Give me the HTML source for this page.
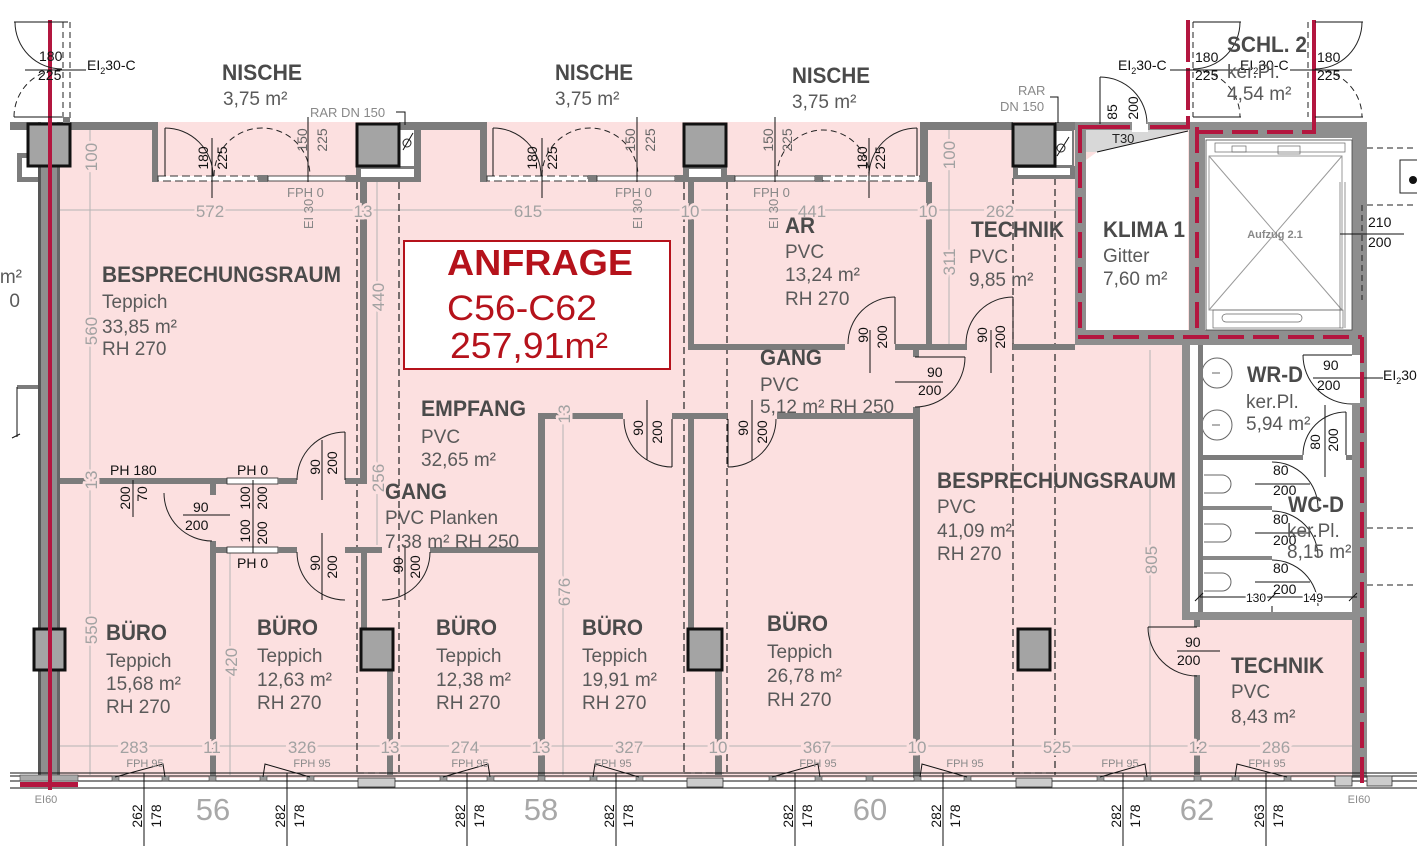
<!DOCTYPE html>
<html><head><meta charset="utf-8">
<style>
html,body{margin:0;padding:0;background:#fff;}
svg{display:block;}
text{font-family:"Liberation Sans",Arial,sans-serif;}
.w{fill:#7c7c7c;}
.ow{fill:#8e8e8e;}
.c{fill:#a4a4a4;stroke:#111;stroke-width:3;}
.rn{font-weight:bold;font-size:22px;fill:#4a4a4a;}
.rs{font-size:19px;fill:#5a5a5a;}
.dm{font-size:17px;fill:#a2a2a2;stroke:#fce0e0;stroke-width:5px;paint-order:stroke;}
.dl{font-size:14px;fill:#111;}
.dg{font-size:14px;fill:#666;}
.ds{font-size:13px;fill:#888;}
.fp{font-size:11px;fill:#8a8a8a;}
.bay{font-size:31px;fill:#a8a8a8;}
.ar{fill:none;stroke:#222;stroke-width:1;}
.ad{fill:none;stroke:#222;stroke-width:1;stroke-dasharray:6 4;}
.dsh{fill:none;stroke:#222;stroke-width:1.2;stroke-dasharray:7 4;}
.dim{stroke:#b4b4b4;stroke-width:1;fill:none;}
.ln{stroke:#111;stroke-width:1;fill:none;}
.red{stroke:#b3163f;stroke-width:4;fill:none;}
.redd{stroke:#b3163f;stroke-width:4;fill:none;stroke-dasharray:26 9;}
.win{fill:#fff;stroke:#222;stroke-width:0.8;}
.ms{fill:#9a9a9a;stroke:#444;stroke-width:0.6;}
</style></head><body>
<svg width="1417" height="868" viewBox="0 0 1417 868" xmlns="http://www.w3.org/2000/svg">
<rect x="0" y="0" width="1417" height="868" fill="#fff"/>
<!-- pink base -->
<rect x="60" y="122" width="1300" height="656" fill="#fce0e0"/>
<!-- white rooms -->
<polygon points="1086,160 1097,152 1188,131 1188,330 1086,330" fill="#fff"/>
<rect x="1205" y="138" width="147" height="192" fill="#fff"/>
<rect x="1183" y="343" width="184" height="277" fill="#fff"/>
<polygon points="1086,130 1188,130 1097,152 1086,152" fill="#d8d8d8"/>
<line x1="1188" y1="131" x2="1097" y2="152" class="ln"/>

<!-- dimension lines -->
<line x1="60" y1="210" x2="1075" y2="210" class="dim"/>
<line x1="60" y1="746" x2="1352" y2="746" class="dim"/>
<line x1="90" y1="130" x2="90" y2="775" class="dim"/>
<line x1="377" y1="182" x2="377" y2="545" class="dim"/>
<line x1="230" y1="553" x2="230" y2="775" class="dim"/>
<line x1="563" y1="420" x2="563" y2="775" class="dim"/>
<line x1="949" y1="130" x2="949" y2="344" class="dim"/>
<line x1="1150" y1="350" x2="1150" y2="775" class="dim"/>

<!-- dashed shaft lines -->
<line x1="357" y1="182" x2="357" y2="775" class="dsh"/>
<line x1="399" y1="182" x2="399" y2="775" class="dsh"/>
<line x1="684" y1="182" x2="684" y2="775" class="dsh"/>
<line x1="727" y1="182" x2="727" y2="775" class="dsh"/>
<line x1="1013" y1="178" x2="1013" y2="775" class="dsh"/>
<line x1="1055" y1="178" x2="1055" y2="775" class="dsh"/>

<!-- outer walls top/left -->
<rect x="10" y="122" width="148" height="8" class="w"/>
<rect x="152" y="122" width="6" height="60" class="w"/>
<rect x="17" y="153" width="21" height="29" class="w"/>
<rect x="22" y="158" width="16" height="19" fill="#fff"/>
<rect x="38" y="122" width="22" height="656" class="ow"/>
<rect x="38" y="122" width="3" height="656" fill="#555"/>
<rect x="57" y="122" width="3" height="656" fill="#666"/>
<line x1="17" y1="387" x2="38" y2="387" stroke="#7c7c7c" stroke-width="4"/>
<line x1="17" y1="387" x2="17" y2="437" class="ln"/>
<line x1="12" y1="438" x2="20" y2="434" class="ln"/>

<!-- nische 1 bottom -->
<rect x="158" y="176" width="100" height="5" fill="#fff" stroke="#333" stroke-width="1" stroke-dasharray="8 4"/>
<rect x="258" y="175" width="10" height="7" class="w"/>
<rect x="268" y="176" width="78" height="5" class="win"/>
<rect x="346" y="175" width="10" height="7" class="w"/>
<rect x="356" y="166" width="65" height="16" class="w"/>
<rect x="361" y="169" width="53" height="8" fill="#fff"/>
<rect x="399" y="122" width="88" height="8" class="w"/>
<rect x="414" y="122" width="7" height="60" class="w"/>
<rect x="400" y="130" width="14" height="36" fill="#fff"/>
<circle cx="407" cy="143" r="4" class="ar"/>
<line x1="403" y1="150" x2="413" y2="133" class="ln"/>
<rect x="480" y="122" width="7" height="60" class="w"/>
<!-- nische 2 bottom -->
<rect x="487" y="176" width="101" height="5" fill="#fff" stroke="#333" stroke-width="1" stroke-dasharray="8 4"/>
<rect x="588" y="175" width="9" height="7" class="w"/>
<rect x="597" y="176" width="78" height="5" class="win"/>
<rect x="675" y="175" width="9" height="7" class="w"/>
<rect x="683" y="166" width="44" height="16" class="w"/>
<rect x="689" y="169" width="32" height="8" fill="#fff"/>
<!-- nische 3 bottom -->
<rect x="727" y="175" width="8" height="7" class="w"/>
<rect x="735" y="176" width="80" height="5" class="win"/>
<rect x="815" y="175" width="8" height="7" class="w"/>
<rect x="823" y="176" width="97" height="5" fill="#fff" stroke="#333" stroke-width="1" stroke-dasharray="8 4"/>
<rect x="920" y="122" width="8" height="60" class="w"/>
<rect x="920" y="122" width="93" height="8" class="w"/>
<rect x="1013" y="166" width="62" height="13" class="w"/>
<rect x="1018" y="168" width="52" height="7" fill="#fff"/>
<rect x="1055" y="122" width="20" height="8" class="w"/>
<rect x="1055" y="130" width="18" height="36" fill="#fff" stroke="#7c7c7c" stroke-width="2"/>
<circle cx="1061" cy="148" r="4" class="ar"/>
<line x1="1057" y1="156" x2="1069" y2="137" class="ln"/>

<!-- klima / aufzug walls -->
<rect x="1075" y="122" width="115" height="8" class="ow"/>
<rect x="1075" y="122" width="11" height="223" class="ow"/>
<rect x="1189" y="122" width="16" height="223" class="ow"/>
<rect x="1190" y="122" width="177" height="16" class="ow"/>
<rect x="1352" y="122" width="15" height="223" class="ow"/>
<rect x="1075" y="330" width="292" height="15" class="ow"/>
<rect x="1132" y="120" width="16" height="12" fill="#fff"/>
<!-- aufzug inner -->
<rect x="1206" y="140" width="146" height="190" fill="none" stroke="#444" stroke-width="0.8"/>
<rect x="1209" y="156" width="133" height="154" fill="none" stroke="#999" stroke-width="1"/>
<line x1="1209" y1="156" x2="1342" y2="310" stroke="#999"/>
<line x1="1342" y1="156" x2="1209" y2="310" stroke="#999"/>
<rect x="1215" y="143" width="130" height="9" fill="none" stroke="#666" stroke-width="0.7"/>
<rect x="1232" y="146" width="14" height="6" fill="none" stroke="#666" stroke-width="0.7"/>
<rect x="1278" y="146" width="22" height="8" fill="none" stroke="#666" stroke-width="0.7"/>
<rect x="1213" y="310" width="130" height="18" fill="none" stroke="#666" stroke-width="0.7"/>
<rect x="1222" y="314" width="80" height="8" rx="4" fill="none" stroke="#666" stroke-width="0.7"/>
<line x1="1340" y1="182" x2="1340" y2="328" stroke="#666" stroke-width="0.7"/>
<line x1="1345" y1="182" x2="1345" y2="328" stroke="#666" stroke-width="0.7"/>
<text x="1275" y="238" text-anchor="middle" font-size="11" font-weight="bold" fill="#888">Aufzug 2.1</text>
<!-- outside right -->
<line x1="1367" y1="148" x2="1417" y2="148" class="ad"/>
<line x1="1367" y1="205" x2="1417" y2="205" class="ad"/>
<rect x="1400" y="160" width="20" height="33" fill="#fff" stroke="#222" stroke-width="1"/>
<circle cx="1413" cy="180" r="4" fill="#111"/>
<line x1="1362" y1="205" x2="1362" y2="300" class="ad"/>
<line x1="1340" y1="234" x2="1404" y2="234" class="ln"/>
<text x="1368" y="227" class="dl">210</text>
<text x="1368" y="247" class="dl">200</text>
<line x1="1367" y1="528" x2="1417" y2="528" class="ad"/>
<line x1="1367" y1="585" x2="1417" y2="585" class="ad"/>

<!-- WC block -->
<rect x="1182" y="343" width="8" height="277" class="ow"/>
<rect x="1198" y="345" width="5" height="267" class="w"/>
<rect x="1198" y="455" width="105" height="5" class="w"/>
<rect x="1346" y="455" width="6" height="5" class="w"/>
<rect x="1182" y="612" width="170" height="8" class="ow"/>
<rect x="1352" y="343" width="15" height="435" class="ow"/>
<rect x="1352" y="355" width="8" height="48" fill="#fff"/>
<circle cx="1217" cy="373" r="15" fill="#fff" stroke="#666" stroke-width="1"/>
<line x1="1212" y1="373" x2="1220" y2="373" stroke="#666"/>
<circle cx="1217" cy="425" r="15" fill="#fff" stroke="#666" stroke-width="1"/>
<line x1="1212" y1="425" x2="1220" y2="425" stroke="#666"/>
<rect x="1198" y="345" width="5" height="267" class="w"/>
<path d="M1204 475 h18 a9 9 0 0 1 0 18 h-18" fill="#fff" stroke="#666"/>
<path d="M1204 524 h18 a9 9 0 0 1 0 18 h-18" fill="#fff" stroke="#666"/>
<path d="M1204 573 h18 a9 9 0 0 1 0 18 h-18" fill="#fff" stroke="#666"/>
<line x1="1203" y1="507" x2="1272" y2="507" class="ln"/><line x1="1203" y1="509" x2="1272" y2="509" class="ln"/>
<line x1="1203" y1="557" x2="1272" y2="557" class="ln"/><line x1="1203" y1="559" x2="1272" y2="559" class="ln"/>
<path d="M1272 462 A46 46 0 0 1 1318 508" class="ar"/>
<path d="M1272 511 A46 46 0 0 1 1318 557" class="ar"/>
<path d="M1272 560 A46 46 0 0 1 1318 606" class="ar"/>
<line x1="1272" y1="606" x2="1272" y2="612" class="ln"/>
<line x1="1255" y1="484" x2="1310" y2="484" class="ln"/>
<line x1="1255" y1="533" x2="1310" y2="533" class="ln"/>
<line x1="1255" y1="582" x2="1310" y2="582" class="ln"/>
<text x="1273" y="475" class="dl">80</text><text x="1273" y="495" class="dl">200</text>
<text x="1273" y="524" class="dl">80</text><text x="1273" y="545" class="dl">200</text>
<text x="1273" y="573" class="dl">80</text><text x="1273" y="594" class="dl">200</text>
<line x1="1200" y1="597" x2="1357" y2="597" class="ln"/>
<line x1="1195" y1="601" x2="1203" y2="593" class="ln"/>
<line x1="1268" y1="601" x2="1276" y2="593" class="ln"/>
<line x1="1349" y1="601" x2="1357" y2="593" class="ln"/>
<text x="1246" y="602" font-size="12" fill="#111" stroke="#fff" stroke-width="3" paint-order="stroke">130</text>
<text x="1303" y="602" font-size="12" fill="#111" stroke="#fff" stroke-width="3" paint-order="stroke">149</text>
<!-- WR-D doors -->
<path d="M1303 455 A43 43 0 0 1 1346 412" class="ar"/>
<line x1="1346" y1="412" x2="1346" y2="455" class="ln"/>
<line x1="1325" y1="405" x2="1325" y2="477" class="ln"/>
<text class="dl" transform="translate(1320,442) rotate(-90)" text-anchor="middle">80</text>
<text class="dl" transform="translate(1338,440) rotate(-90)" text-anchor="middle">200</text>
<path d="M1303 355 A49 49 0 0 0 1352 404" class="ar"/>
<line x1="1303" y1="355" x2="1352" y2="355" class="ln"/>
<line x1="1313" y1="378" x2="1383" y2="378" class="ln"/>
<text x="1323" y="370" class="dl">90</text>
<text x="1317" y="390" class="dl">200</text>
<text x="1383" y="380" class="dl">EI<tspan font-size="9" dy="4">2</tspan><tspan dy="-4">30</tspan></text>

<!-- interior walls -->
<rect x="360" y="182" width="7" height="302" class="w"/>
<rect x="60" y="478" width="167" height="6" class="w"/>
<rect x="227" y="478" width="51" height="6" class="win"/>
<rect x="278" y="478" width="19" height="6" class="w"/>
<rect x="345" y="478" width="22" height="6" class="w"/>
<rect x="210" y="484" width="6" height="11" class="w"/>
<rect x="210" y="547" width="17" height="6" class="w"/>
<rect x="227" y="547" width="51" height="6" class="win"/>
<rect x="278" y="547" width="19" height="6" class="w"/>
<rect x="345" y="547" width="37" height="6" class="w"/>
<rect x="430" y="547" width="115" height="6" class="w"/>
<rect x="210" y="541" width="6" height="237" class="w"/>
<rect x="361" y="553" width="6" height="75" class="w"/>
<rect x="387" y="671" width="6" height="104" class="w"/>
<rect x="538" y="413" width="7" height="365" class="w"/>
<rect x="538" y="413" width="85" height="6" class="w"/>
<rect x="672" y="413" width="55" height="6" class="w"/>
<rect x="777" y="413" width="140" height="6" class="w"/>
<rect x="688" y="182" width="6" height="163" class="w"/>
<rect x="688" y="413" width="6" height="215" class="w"/>
<rect x="715" y="671" width="7" height="104" class="w"/>
<rect x="688" y="344" width="157" height="6" class="w"/>
<rect x="895" y="344" width="72" height="6" class="w"/>
<rect x="1013" y="344" width="62" height="6" class="w"/>
<rect x="926" y="182" width="6" height="162" class="w"/>
<rect x="913" y="350" width="6" height="7" class="w"/>
<rect x="913" y="407" width="7" height="371" class="w"/>
<rect x="1194" y="620" width="6" height="7" class="w"/>
<rect x="1194" y="675" width="6" height="100" class="w"/>

<!-- columns -->
<rect x="28" y="124" width="42" height="42" class="c"/>
<rect x="357" y="124" width="42" height="42" class="c"/>
<rect x="684" y="124" width="42" height="42" class="c"/>
<rect x="1013" y="124" width="42" height="42" class="c"/>
<rect x="34" y="629" width="31" height="41" class="c"/>
<rect x="361" y="629" width="32" height="41" class="c"/>
<rect x="688" y="629" width="34" height="41" class="c"/>
<rect x="1018" y="629" width="32" height="41" class="c"/>

<!-- bottom facade -->
<line x1="10" y1="773" x2="1417" y2="773" class="ln"/>
<line x1="10" y1="776" x2="1417" y2="776" class="ln"/>
<line x1="10" y1="781" x2="1417" y2="781" class="ln"/>
<line x1="10" y1="788" x2="1417" y2="788" class="ln"/>
<line x1="357" y1="773" x2="399" y2="773" class="dsh"/>
<line x1="684" y1="773" x2="727" y2="773" class="dsh"/>
<line x1="1013" y1="773" x2="1055" y2="773" class="dsh"/>
<rect x="20" y="775" width="58" height="6" fill="#aaa" stroke="#444" stroke-width="0.6"/>
<g class="ms">
<rect x="112" y="776" width="7" height="5"/><rect x="162" y="776" width="7" height="5"/>
<rect x="209" y="776" width="7" height="5"/><rect x="260" y="776" width="7" height="5"/>
<rect x="307" y="776" width="7" height="5"/><rect x="440" y="776" width="7" height="5"/>
<rect x="487" y="776" width="7" height="5"/><rect x="538" y="776" width="7" height="5"/>
<rect x="590" y="776" width="7" height="5"/><rect x="636" y="776" width="7" height="5"/>
<rect x="769" y="776" width="7" height="5"/><rect x="815" y="776" width="7" height="5"/>
<rect x="866" y="776" width="7" height="5"/><rect x="914" y="776" width="7" height="5"/>
<rect x="964" y="776" width="7" height="5"/><rect x="1097" y="776" width="7" height="5"/>
<rect x="1144" y="776" width="7" height="5"/><rect x="1194" y="776" width="7" height="5"/>
<rect x="1232" y="776" width="7" height="5"/><rect x="1284" y="776" width="7" height="5"/>
</g>
<g fill="#ccc" stroke="#333" stroke-width="0.8">
<rect x="358" y="778" width="37" height="9"/>
<rect x="687" y="778" width="36" height="9"/>
<rect x="1016" y="778" width="36" height="9"/>
<rect x="1335" y="776" width="17" height="10"/>
<rect x="1367" y="776" width="25" height="10"/>
</g>
<g class="ln">
<polyline points="115,777 163,764 165,777"/>
<polyline points="263,777 265,764 310,777"/>
<polyline points="443,777 488,764 490,777"/>
<polyline points="593,777 595,764 639,777"/>
<polyline points="772,777 818,764 820,777"/>
<polyline points="920,777 922,764 967,777"/>
<polyline points="1100,777 1145,764 1147,777"/>
<polyline points="1235,777 1237,764 1287,777"/>
</g>
<g class="fp" text-anchor="middle">
<text x="145" y="767">FPH 95</text><text x="312" y="767">FPH 95</text>
<text x="470" y="767">FPH 95</text><text x="613" y="767">FPH 95</text>
<text x="818" y="767">FPH 95</text><text x="965" y="767">FPH 95</text>
<text x="1120" y="767">FPH 95</text><text x="1267" y="767">FPH 95</text>
</g>

<!-- red lines -->
<line x1="50" y1="20" x2="50" y2="790" class="red"/>
<rect x="20" y="782" width="58" height="5" fill="#b3163f"/>
<line x1="1188" y1="20" x2="1188" y2="127" class="red" stroke-dasharray="42 6"/>
<line x1="1314" y1="20" x2="1314" y2="133" class="red"/>
<line x1="1078" y1="127" x2="1130" y2="127" class="red"/>
<line x1="1150" y1="127" x2="1190" y2="127" class="red"/>
<line x1="1080" y1="127" x2="1080" y2="337" class="redd"/>
<line x1="1197" y1="127" x2="1197" y2="337" class="redd"/>
<line x1="1078" y1="337" x2="1362" y2="337" class="redd"/>
<line x1="1197" y1="132" x2="1316" y2="132" class="redd"/>
<line x1="1362" y1="337" x2="1362" y2="787" class="redd"/>

<!-- top-left door -->
<path d="M15 22 A47 47 0 0 0 62 69" class="ar"/>
<path d="M14 117 A48 48 0 0 1 62 69" class="ad"/>
<line x1="14" y1="22" x2="68" y2="22" class="ln"/>
<line x1="14" y1="117" x2="62" y2="117" class="ln"/>
<line x1="63" y1="22" x2="63" y2="118" class="ad"/>
<line x1="70" y1="22" x2="70" y2="118" class="ad"/>
<rect x="63" y="117" width="7" height="6" class="w"/>
<line x1="25" y1="70" x2="86" y2="70" class="ln"/>
<text x="39" y="61" class="dl">180</text>
<text x="38" y="80" class="dl">225</text>
<text x="87" y="70" class="dl">EI<tspan font-size="9" dy="4">2</tspan><tspan dy="-4">30-C</tspan></text>

<!-- nische doors -->
<line x1="165" y1="128" x2="165" y2="176" class="ln"/>
<path d="M165 128 A48 48 0 0 1 213 176" class="ar"/>
<path d="M214 176 A48 48 0 0 1 310 176" class="ad"/>
<line x1="212" y1="138" x2="212" y2="198" class="ln"/>
<line x1="308" y1="117" x2="308" y2="182" class="ln"/>
<text class="dl" transform="translate(208,158) rotate(-90)" text-anchor="middle">180</text>
<text class="dl" transform="translate(227,158) rotate(-90)" text-anchor="middle">225</text>
<text class="dg" transform="translate(307,140) rotate(-90)" text-anchor="middle">150</text>
<text class="dg" transform="translate(327,140) rotate(-90)" text-anchor="middle">225</text>

<line x1="493" y1="128" x2="493" y2="176" class="ln"/>
<path d="M493 128 A48 48 0 0 1 541 176" class="ar"/>
<path d="M542 176 A48 48 0 0 1 638 176" class="ad"/>
<line x1="542" y1="138" x2="542" y2="198" class="ln"/>
<line x1="637" y1="117" x2="637" y2="182" class="ln"/>
<text class="dl" transform="translate(537,158) rotate(-90)" text-anchor="middle">180</text>
<text class="dl" transform="translate(557,158) rotate(-90)" text-anchor="middle">225</text>
<text class="dg" transform="translate(635,140) rotate(-90)" text-anchor="middle">150</text>
<text class="dg" transform="translate(655,140) rotate(-90)" text-anchor="middle">225</text>

<line x1="917" y1="128" x2="917" y2="176" class="ln"/>
<path d="M917 128 A48 48 0 0 0 869 176" class="ar"/>
<path d="M777 176 A46 46 0 0 1 869 176" class="ad"/>
<line x1="869" y1="138" x2="869" y2="198" class="ln"/>
<line x1="775" y1="117" x2="775" y2="182" class="ln"/>
<text class="dg" transform="translate(773,140) rotate(-90)" text-anchor="middle">150</text>
<text class="dg" transform="translate(792,140) rotate(-90)" text-anchor="middle">225</text>
<text class="dl" transform="translate(867,158) rotate(-90)" text-anchor="middle">180</text>
<text class="dl" transform="translate(885,158) rotate(-90)" text-anchor="middle">225</text>

<g class="ds">
<text x="287" y="197">FPH 0</text>
<text x="615" y="197">FPH 0</text>
<text x="753" y="197">FPH 0</text>
<text transform="translate(313,214) rotate(-90)" text-anchor="middle">EI 30</text>
<text transform="translate(642,214) rotate(-90)" text-anchor="middle">EI 30</text>
<text transform="translate(778,214) rotate(-90)" text-anchor="middle">EI 30</text>
<text x="310" y="117">RAR DN 150</text>
<text x="1018" y="95">RAR</text>
<text x="1000" y="111">DN 150</text>
</g>
<polyline points="396,112 405,112 405,125" class="ln"/>
<polyline points="1050,97 1058,97 1058,123" class="ln"/>

<!-- klima door & schl doors -->
<line x1="1100" y1="77" x2="1100" y2="124" class="ln"/>
<path d="M1100 77 A47 47 0 0 1 1147 124" class="ar"/>
<text class="dl" transform="translate(1117,112) rotate(-90)" text-anchor="middle">85</text>
<text class="dl" transform="translate(1138,108) rotate(-90)" text-anchor="middle">200</text>
<text x="1112" y="143" font-size="13" fill="#222">T30</text>

<line x1="1193" y1="22" x2="1241" y2="22" class="ln"/>
<line x1="1193" y1="117" x2="1241" y2="117" class="ln"/>
<line x1="1193" y1="22" x2="1193" y2="117" class="ad"/>
<path d="M1240 22 A47 47 0 0 1 1193 69" class="ar"/>
<path d="M1193 70 A47 47 0 0 1 1240 117" class="ad"/>
<line x1="1315" y1="22" x2="1363" y2="22" class="ln"/>
<line x1="1315" y1="117" x2="1363" y2="117" class="ln"/>
<line x1="1308" y1="22" x2="1308" y2="117" class="ad"/>
<path d="M1362 22 A47 47 0 0 1 1315 69" class="ar"/>
<path d="M1315 70 A47 47 0 0 1 1362 117" class="ad"/>
<line x1="1170" y1="70" x2="1240" y2="70" class="ln"/>
<line x1="1290" y1="70" x2="1352" y2="70" class="ln"/>
<text x="1195" y="62" class="dl">180</text>
<text x="1195" y="80" class="dl">225</text>
<text x="1317" y="62" class="dl">180</text>
<text x="1317" y="80" class="dl">225</text>
<text x="1118" y="70" class="dl">EI<tspan font-size="9" dy="4">2</tspan><tspan dy="-4">30-C</tspan></text>
<text x="1240" y="70" class="dl">EI<tspan font-size="9" dy="4">2</tspan><tspan dy="-4">30-C</tspan></text>

<!-- interior doors -->
<path d="M297 480 A48 48 0 0 1 345 432" class="ar"/>
<line x1="345" y1="432" x2="345" y2="480" class="ln"/>
<line x1="322" y1="440" x2="322" y2="500" class="ln"/>
<text class="dl" transform="translate(320,467) rotate(-90)" text-anchor="middle">90</text>
<text class="dl" transform="translate(337,463) rotate(-90)" text-anchor="middle">200</text>
<path d="M297 552 A48 48 0 0 0 345 600" class="ar"/>
<line x1="322" y1="533" x2="322" y2="600" class="ln"/>
<text class="dl" transform="translate(320,563) rotate(-90)" text-anchor="middle">90</text>
<text class="dl" transform="translate(337,567) rotate(-90)" text-anchor="middle">200</text>
<path d="M430 552 A48 48 0 0 1 382 600" class="ar"/>
<line x1="405" y1="545" x2="405" y2="600" class="ln"/>
<text class="dl" transform="translate(403,565) rotate(-90)" text-anchor="middle">90</text>
<text class="dl" transform="translate(420,567) rotate(-90)" text-anchor="middle">200</text>
<path d="M164 493 A48 48 0 0 0 212 541" class="ar"/>
<line x1="183" y1="515" x2="230" y2="515" class="ln"/>
<text x="193" y="512" class="dl">90</text>
<text x="185" y="530" class="dl">200</text>
<line x1="133" y1="480" x2="133" y2="517" class="ln"/>
<text x="110" y="475" class="dl">PH 180</text>
<text class="dl" transform="translate(130,498) rotate(-90)" text-anchor="middle">200</text>
<text class="dl" transform="translate(147,494) rotate(-90)" text-anchor="middle">70</text>
<text x="237" y="475" class="dl">PH 0</text>
<text x="237" y="568" class="dl">PH 0</text>
<line x1="253" y1="480" x2="253" y2="553" class="ln"/>
<text class="dl" transform="translate(250,498) rotate(-90)" text-anchor="middle">100</text>
<text class="dl" transform="translate(267,498) rotate(-90)" text-anchor="middle">200</text>
<text class="dl" transform="translate(250,531) rotate(-90)" text-anchor="middle">100</text>
<text class="dl" transform="translate(267,533) rotate(-90)" text-anchor="middle">200</text>

<path d="M624 419 A48 48 0 0 0 672 467" class="ar"/>
<line x1="672" y1="419" x2="672" y2="467" class="ln"/>
<line x1="647" y1="400" x2="647" y2="460" class="ln"/>
<text class="dl" transform="translate(643,428) rotate(-90)" text-anchor="middle">90</text>
<text class="dl" transform="translate(662,432) rotate(-90)" text-anchor="middle">200</text>
<path d="M776 419 A48 48 0 0 1 728 467" class="ar"/>
<line x1="728" y1="419" x2="728" y2="467" class="ln"/>
<line x1="752" y1="400" x2="752" y2="460" class="ln"/>
<text class="dl" transform="translate(748,428) rotate(-90)" text-anchor="middle">90</text>
<text class="dl" transform="translate(767,432) rotate(-90)" text-anchor="middle">200</text>

<path d="M895 297 A47 47 0 0 0 848 344" class="ar"/>
<line x1="895" y1="297" x2="895" y2="344" class="ln"/>
<line x1="870" y1="330" x2="870" y2="373" class="ln"/>
<text class="dl" transform="translate(868,335) rotate(-90)" text-anchor="middle">90</text>
<text class="dl" transform="translate(887,337) rotate(-90)" text-anchor="middle">200</text>
<path d="M1013 297 A47 47 0 0 0 966 344" class="ar"/>
<line x1="1013" y1="297" x2="1013" y2="344" class="ln"/>
<line x1="991" y1="330" x2="991" y2="373" class="ln"/>
<text class="dl" transform="translate(987,335) rotate(-90)" text-anchor="middle">90</text>
<text class="dl" transform="translate(1005,337) rotate(-90)" text-anchor="middle">200</text>
<path d="M915 407 A50 50 0 0 0 965 357" class="ar"/>
<line x1="915" y1="357" x2="965" y2="357" class="ln"/>
<line x1="895" y1="382" x2="943" y2="382" class="ln"/>
<text x="927" y="377" class="dl">90</text>
<text x="918" y="395" class="dl">200</text>

<path d="M1148 627 A49 49 0 0 0 1197 676" class="ar"/>
<line x1="1148" y1="627" x2="1197" y2="627" class="ln"/>
<line x1="1177" y1="651" x2="1220" y2="651" class="ln"/>
<text x="1185" y="647" class="dl">90</text>
<text x="1177" y="665" class="dl">200</text>

<!-- dimension labels -->
<g class="dm" text-anchor="middle">
<text x="210" y="217">572</text><text x="363" y="217">13</text>
<text x="528" y="217">615</text><text x="690" y="217">10</text>
<text x="812" y="217">441</text><text x="928" y="217">10</text>
<text x="1000" y="217">262</text>
<text x="134" y="753">283</text><text x="212" y="753">11</text>
<text x="302" y="753">326</text><text x="390" y="753">13</text>
<text x="465" y="753">274</text><text x="541" y="753">13</text>
<text x="629" y="753">327</text><text x="718" y="753">10</text>
<text x="817" y="753">367</text><text x="917" y="753">10</text>
<text x="1057" y="753">525</text><text x="1198" y="753">12</text>
<text x="1276" y="753">286</text>
<text transform="translate(97,157) rotate(-90)">100</text>
<text transform="translate(97,331) rotate(-90)">560</text>
<text transform="translate(97,480) rotate(-90)">13</text>
<text transform="translate(97,630) rotate(-90)">550</text>
<text transform="translate(384,297) rotate(-90)">440</text>
<text transform="translate(384,478) rotate(-90)">256</text>
<text transform="translate(237,662) rotate(-90)">420</text>
<text transform="translate(570,592) rotate(-90)">676</text>
<text transform="translate(570,414) rotate(-90)">13</text>
<text transform="translate(955,155) rotate(-90)">100</text>
<text transform="translate(955,262) rotate(-90)">311</text>
<text transform="translate(1157,560) rotate(-90)">805</text>
</g>

<!-- bottom dims -->
<g class="ln">
<line x1="144" y1="773" x2="144" y2="846"/><line x1="287" y1="773" x2="287" y2="846"/>
<line x1="467" y1="773" x2="467" y2="846"/><line x1="616" y1="773" x2="616" y2="846"/>
<line x1="795" y1="773" x2="795" y2="846"/><line x1="943" y1="773" x2="943" y2="846"/>
<line x1="1123" y1="773" x2="1123" y2="846"/><line x1="1266" y1="773" x2="1266" y2="846"/>
</g>
<g class="dl" text-anchor="middle">
<text transform="translate(142,816) rotate(-90)">262</text><text transform="translate(161,816) rotate(-90)">178</text>
<text transform="translate(285,816) rotate(-90)">282</text><text transform="translate(304,816) rotate(-90)">178</text>
<text transform="translate(465,816) rotate(-90)">282</text><text transform="translate(484,816) rotate(-90)">178</text>
<text transform="translate(614,816) rotate(-90)">282</text><text transform="translate(633,816) rotate(-90)">178</text>
<text transform="translate(793,816) rotate(-90)">282</text><text transform="translate(812,816) rotate(-90)">178</text>
<text transform="translate(941,816) rotate(-90)">282</text><text transform="translate(960,816) rotate(-90)">178</text>
<text transform="translate(1121,816) rotate(-90)">282</text><text transform="translate(1140,816) rotate(-90)">178</text>
<text transform="translate(1264,816) rotate(-90)">263</text><text transform="translate(1283,816) rotate(-90)">178</text>
</g>
<g class="bay" text-anchor="middle">
<text x="213" y="820">56</text><text x="541" y="820">58</text>
<text x="870" y="820">60</text><text x="1197" y="820">62</text>
</g>
<text x="46" y="803" class="fp" text-anchor="middle">EI60</text>
<text x="1359" y="803" class="fp" text-anchor="middle">EI60</text>

<!-- ANFRAGE box -->
<rect x="404" y="241" width="266" height="128" fill="#fff" stroke="#b5121b" stroke-width="2"/>
<text x="447" y="275" font-size="36" font-weight="bold" fill="#b5121b" textLength="186" lengthAdjust="spacingAndGlyphs">ANFRAGE</text>
<text x="447" y="320" font-size="35" fill="#b5121b" textLength="150" lengthAdjust="spacingAndGlyphs">C56-C62</text>
<text x="450" y="358" font-size="36" fill="#b5121b" textLength="158" lengthAdjust="spacingAndGlyphs">257,91m²</text>

<!-- room labels -->
<text x="222" y="80" class="rn" textLength="80" lengthAdjust="spacingAndGlyphs">NISCHE</text>
<text x="223" y="105" class="rs">3,75 m²</text>
<text x="555" y="80" class="rn" textLength="78" lengthAdjust="spacingAndGlyphs">NISCHE</text>
<text x="555" y="105" class="rs">3,75 m²</text>
<text x="792" y="83" class="rn" textLength="78" lengthAdjust="spacingAndGlyphs">NISCHE</text>
<text x="792" y="108" class="rs">3,75 m²</text>

<text x="102" y="282" class="rn" textLength="239" lengthAdjust="spacingAndGlyphs">BESPRECHUNGSRAUM</text>
<text x="102" y="308" class="rs">Teppich</text>
<text x="102" y="333" class="rs">33,85 m²</text>
<text x="102" y="355" class="rs">RH 270</text>

<text x="421" y="416" class="rn" textLength="105" lengthAdjust="spacingAndGlyphs">EMPFANG</text>
<text x="421" y="443" class="rs">PVC</text>
<text x="421" y="466" class="rs">32,65 m²</text>

<text x="385" y="499" class="rn" textLength="62" lengthAdjust="spacingAndGlyphs">GANG</text>
<text x="385" y="524" class="rs">PVC Planken</text>
<text x="385" y="548" class="rs">7,38 m² RH 250</text>

<text x="785" y="233" class="rn" textLength="30" lengthAdjust="spacingAndGlyphs">AR</text>
<text x="785" y="258" class="rs">PVC</text>
<text x="785" y="281" class="rs">13,24 m²</text>
<text x="785" y="305" class="rs">RH 270</text>

<text x="971" y="237" class="rn" textLength="93" lengthAdjust="spacingAndGlyphs">TECHNIK</text>
<text x="969" y="263" class="rs">PVC</text>
<text x="969" y="286" class="rs">9,85 m²</text>

<text x="760" y="365" class="rn" textLength="62" lengthAdjust="spacingAndGlyphs">GANG</text>
<text x="760" y="391" class="rs">PVC</text>
<text x="760" y="413" class="rs">5,12 m² RH 250</text>

<text x="1103" y="237" class="rn" textLength="82" lengthAdjust="spacingAndGlyphs">KLIMA 1</text>
<text x="1103" y="262" class="rs">Gitter</text>
<text x="1103" y="285" class="rs">7,60 m²</text>

<text x="1227" y="52" class="rn" textLength="80" lengthAdjust="spacingAndGlyphs">SCHL. 2</text>
<text x="1227" y="78" class="rs">ker.Pl.</text>
<text x="1227" y="100" class="rs">4,54 m²</text>

<text x="1247" y="382" class="rn" textLength="56" lengthAdjust="spacingAndGlyphs">WR-D</text>
<text x="1246" y="408" class="rs">ker.Pl.</text>
<text x="1246" y="430" class="rs">5,94 m²</text>

<text x="1288" y="512" class="rn" textLength="56" lengthAdjust="spacingAndGlyphs">WC-D</text>
<text x="1287" y="537" class="rs">ker.Pl.</text>
<text x="1287" y="558" class="rs">8,15 m²</text>

<text x="937" y="488" class="rn" textLength="239" lengthAdjust="spacingAndGlyphs">BESPRECHUNGSRAUM</text>
<text x="937" y="513" class="rs">PVC</text>
<text x="937" y="537" class="rs">41,09 m²</text>
<text x="937" y="560" class="rs">RH 270</text>

<text x="1231" y="673" class="rn" textLength="93" lengthAdjust="spacingAndGlyphs">TECHNIK</text>
<text x="1231" y="698" class="rs">PVC</text>
<text x="1231" y="723" class="rs">8,43 m²</text>

<text x="106" y="640" class="rn" textLength="61" lengthAdjust="spacingAndGlyphs">BÜRO</text>
<text x="106" y="667" class="rs">Teppich</text>
<text x="106" y="690" class="rs">15,68 m²</text>
<text x="106" y="713" class="rs">RH 270</text>

<text x="257" y="635" class="rn" textLength="61" lengthAdjust="spacingAndGlyphs">BÜRO</text>
<text x="257" y="662" class="rs">Teppich</text>
<text x="257" y="686" class="rs">12,63 m²</text>
<text x="257" y="709" class="rs">RH 270</text>

<text x="436" y="635" class="rn" textLength="61" lengthAdjust="spacingAndGlyphs">BÜRO</text>
<text x="436" y="662" class="rs">Teppich</text>
<text x="436" y="686" class="rs">12,38 m²</text>
<text x="436" y="709" class="rs">RH 270</text>

<text x="582" y="635" class="rn" textLength="61" lengthAdjust="spacingAndGlyphs">BÜRO</text>
<text x="582" y="662" class="rs">Teppich</text>
<text x="582" y="686" class="rs">19,91 m²</text>
<text x="582" y="709" class="rs">RH 270</text>

<text x="767" y="631" class="rn" textLength="61" lengthAdjust="spacingAndGlyphs">BÜRO</text>
<text x="767" y="658" class="rs">Teppich</text>
<text x="767" y="682" class="rs">26,78 m²</text>
<text x="767" y="706" class="rs">RH 270</text>

<!-- cut-off labels at left edge -->
<text x="22" y="283" class="rs" text-anchor="end">m²</text>
<text x="20" y="307" class="rs" text-anchor="end">0</text>
</svg>
</body></html>
